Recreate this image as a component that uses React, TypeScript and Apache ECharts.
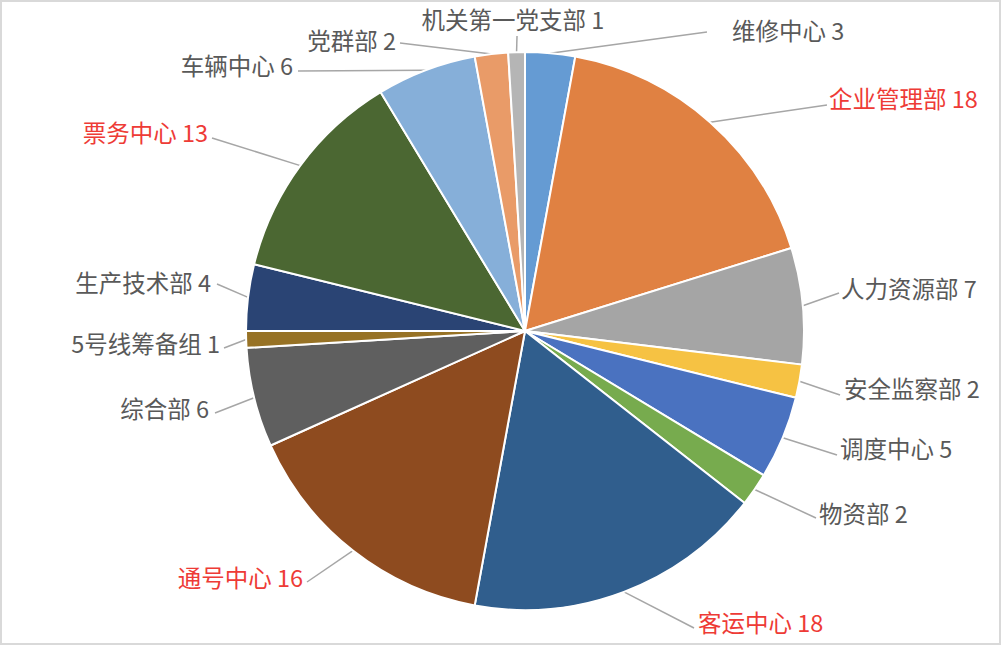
import React, { useEffect, useRef } from "react";
import * as echarts from "echarts";

const categories = [
  "维修中心",
  "企业管理部",
  "人力资源部",
  "安全监察部",
  "调度中心",
  "物资部",
  "客运中心",
  "通号中心",
  "综合部",
  "5号线筹备组",
  "生产技术部",
  "票务中心",
  "车辆中心",
  "党群部",
  "机关第一党支部",
];
const values = [3, 18, 7, 2, 5, 2, 18, 16, 6, 1, 4, 13, 6, 2, 1];
const highlighted = ["企业管理部", "客运中心", "通号中心", "票务中心"];
const colors = [
  "#659BD3",
  "#E08142",
  "#A5A5A5",
  "#F6C243",
  "#4A72C0",
  "#77AB4E",
  "#305E8D",
  "#8E4B1F",
  "#5F5F5F",
  "#977225",
  "#2A4474",
  "#4B6732",
  "#86AFD9",
  "#E99B68",
  "#B5B5B5",
];

// label placement (style/layout only): [x, y, align, lineEndX, lineEndY]
const labelPlacement: [number, number, string, number, number][] = [
  [732, 30, "left", 707, 32],
  [829, 98, "left", 827, 105],
  [841, 288, "left", 839, 293],
  [844, 388, "left", 840, 395],
  [840, 448, "left", 837, 455],
  [819, 513, "left", 816, 518],
  [698, 622, "left", 694, 628],
  [303, 577, "right", 307, 582],
  [209, 408, "right", 215, 413],
  [220, 343, "right", 224, 348],
  [211, 282, "right", 217, 284],
  [208, 132, "right", 212, 138],
  [293, 65, "right", 298, 71],
  [396, 40, "right", 400, 43],
  [513, 19, "center", 517, 36],
];

const CX = 525;
const CY = 331;
const R = 279;

export default function App() {
  const ref = useRef<HTMLDivElement>(null);
  useEffect(() => {
    document.body.style.margin = "0";
    const chart = echarts.init(ref.current!, null, { renderer: "svg" });
    const total = values.reduce((a, b) => a + b, 0);
    const data = categories.map((name, i) => ({
      name,
      value: values[i],
      itemStyle: { color: colors[i] },
      label: {
        color: highlighted.includes(name) ? "#EE3B36" : "#595959",
      },
    }));
    chart.setOption({
      animation: false,
      backgroundColor: "transparent",
      series: [
        {
          type: "pie",
          center: [CX, CY],
          radius: R,
          startAngle: 90,
          clockwise: true,
          data,
          itemStyle: { borderColor: "#ffffff", borderWidth: 2 },
          label: {
            formatter: "{b} {c}",
            fontSize: 23.5,
            fontFamily: "Noto Sans CJK SC",
          },
          labelLine: {
            show: true,
            length: 25,
            length2: 8,
            lineStyle: { color: "#A6A6A6", width: 1.5 },
          },
          labelLayout: (params: any) => {
            const i = params.dataIndex;
            const p = labelPlacement[i];
            let start = params.labelLinePoints && params.labelLinePoints[0];
            if (!start) {
              let cum = 0;
              for (let k = 0; k < i; k++) cum += values[k];
              const a = ((cum + values[i] / 2) / total) * Math.PI * 2;
              start = [CX + R * Math.sin(a), CY - R * Math.cos(a)];
            }
            return {
              x: p[0],
              y: p[1],
              align: p[2],
              verticalAlign: "middle",
              labelLinePoints: [
                [start[0], start[1]],
                [p[3], p[4]],
                [p[3], p[4]],
              ],
            };
          },
        },
      ],
    });
    return () => chart.dispose();
  }, []);
  return (
    <div
      style={{
        width: 1001,
        height: 645,
        boxSizing: "border-box",
        border: "2px solid #D9D9D9",
        background: "#fff",
        position: "relative",
      }}
    >
      <div
        ref={ref}
        style={{ position: "absolute", left: -2, top: -2, width: 1001, height: 645 }}
      />
    </div>
  );
}
